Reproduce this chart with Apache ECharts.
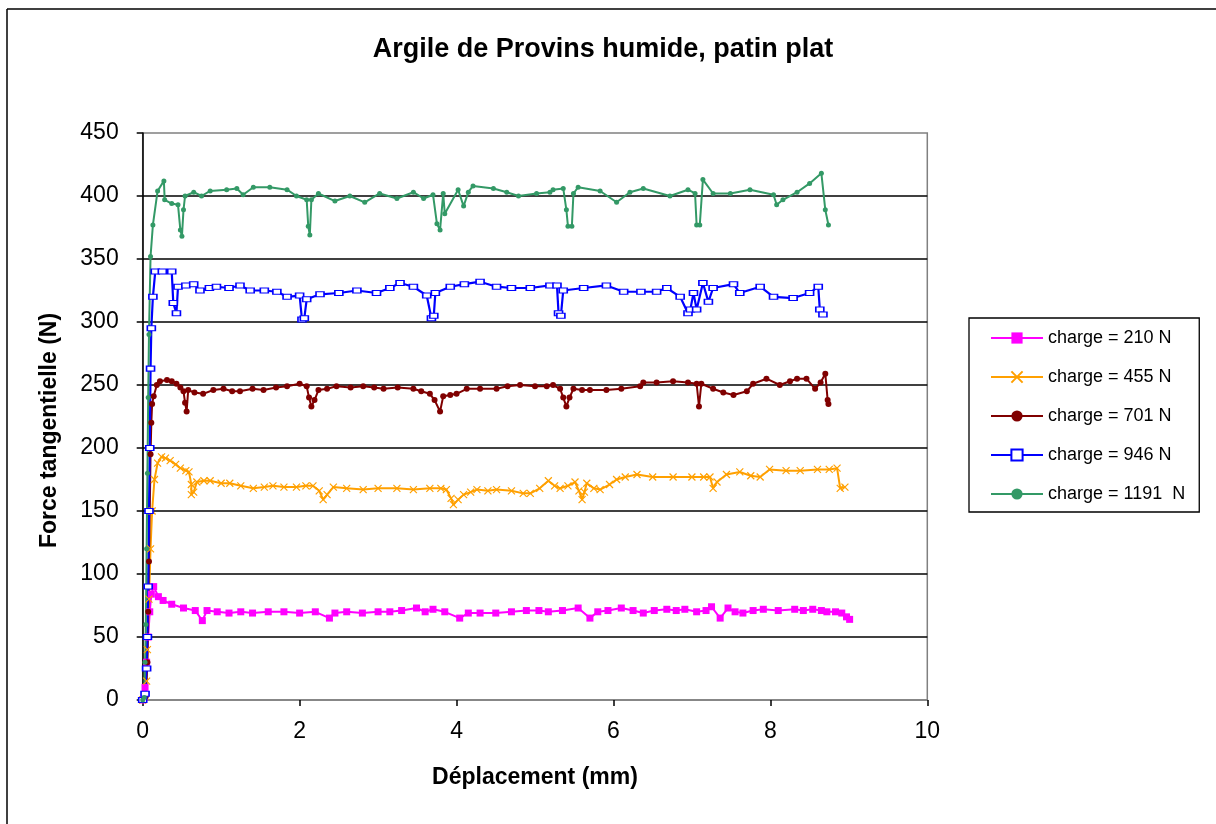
<!DOCTYPE html>
<html>
<head>
<meta charset="utf-8">
<script src="https://cdn.jsdelivr.net/npm/echarts@6/dist/echarts.min.js"></script>
<style>html,body{margin:0;padding:0;background:#fff}#c{width:1216px;height:824px}</style>
</head>
<body>
<div id="c"></div>
<script>
const seriesNames = ['charge = 210 N', 'charge = 455 N', 'charge = 701 N', 'charge = 946 N', 'charge = 1191  N'];
const xTicks = [0, 2, 4, 6, 8, 10];
const yTicks = [0, 50, 100, 150, 200, 250, 300, 350, 400, 450];

const s210 = [[0,0],[0.02,2],[0.03,10],[0.05,30],[0.07,50],[0.09,70],[0.11,84],[0.14,90],[0.20,82],[0.26,79],[0.37,76],[0.52,73],[0.67,71],[0.76,63],[0.82,71],[0.95,70],[1.1,69],[1.25,70],[1.4,69],[1.6,70],[1.8,70],[2.0,69],[2.2,70],[2.38,65],[2.45,69],[2.6,70],[2.8,69],[3.0,70],[3.15,70],[3.3,71],[3.49,73],[3.6,70],[3.70,72],[3.85,70],[4.04,65],[4.15,69],[4.3,69],[4.5,69],[4.7,70],[4.89,71],[5.05,71],[5.17,70],[5.35,71],[5.55,73],[5.70,65],[5.80,70],[5.93,71],[6.10,73],[6.25,71],[6.38,69],[6.52,71],[6.68,72],[6.80,71],[6.91,72],[7.06,70],[7.18,71],[7.25,74],[7.36,65],[7.46,73],[7.55,70],[7.65,69],[7.78,71],[7.91,72],[8.1,71],[8.31,72],[8.42,71],[8.54,72],[8.65,71],[8.72,70],[8.83,70],[8.91,69],[8.97,66],[9.01,64]];

const s455 = [[0,0],[0.03,3],[0.05,15],[0.06,40],[0.08,80],[0.1,120],[0.12,150],[0.15,175],[0.19,188],[0.24,193],[0.29,192],[0.35,190],[0.42,187],[0.48,184],[0.55,182],[0.59,181],[0.62,171],[0.62,163],[0.65,165],[0.69,173],[0.78,174],[0.86,174],[1.0,172],[1.11,172],[1.25,170],[1.41,168],[1.55,169],[1.66,170],[1.8,169],[1.96,169],[2.08,170],[2.17,170],[2.25,166],[2.30,159],[2.35,163],[2.43,169],[2.6,168],[2.81,167],[3.0,168],[3.24,168],[3.45,167],[3.66,168],[3.80,168],[3.87,167],[3.93,160],[3.96,155],[4.02,159],[4.09,163],[4.18,165],[4.26,167],[4.4,166],[4.51,167],[4.7,166],[4.85,164],[4.94,164],[5.06,168],[5.17,174],[5.25,170],[5.32,168],[5.42,170],[5.51,173],[5.56,166],[5.60,159],[5.63,165],[5.66,172],[5.75,168],[5.83,167],[5.95,171],[6.04,175],[6.15,177],[6.30,179],[6.5,177],[6.76,177],[7.0,177],[7.15,177],[7.23,177],[7.27,168],[7.32,173],[7.44,179],[7.61,181],[7.75,178],[7.87,177],[7.99,183],[8.2,182],[8.38,182],[8.6,183],[8.75,183],[8.85,184],[8.89,168],[8.95,169]];

const s701 = [[0,0],[0.04,3],[0.06,30],[0.07,70],[0.08,110],[0.09,150],[0.1,195],[0.11,220],[0.12,235],[0.14,241],[0.18,250],[0.22,253],[0.31,254],[0.37,253],[0.43,251],[0.48,248],[0.52,245],[0.54,236],[0.56,229],[0.58,246],[0.66,244],[0.77,243],[0.9,246],[1.03,247],[1.14,245],[1.24,245],[1.4,247],[1.54,246],[1.7,248],[1.84,249],[2.0,251],[2.09,249],[2.12,240],[2.15,233],[2.19,238],[2.24,246],[2.35,247],[2.47,249],[2.65,248],[2.81,249],[2.95,248],[3.07,247],[3.25,248],[3.45,247],[3.55,245],[3.66,243],[3.72,238],[3.79,229],[3.83,241],[3.92,242],[4.00,243],[4.13,247],[4.3,247],[4.51,247],[4.65,249],[4.81,250],[5.0,249],[5.15,249],[5.23,250],[5.32,247],[5.36,240],[5.40,233],[5.44,240],[5.49,247],[5.6,246],[5.70,246],[5.91,246],[6.1,247],[6.34,249],[6.38,252],[6.55,252],[6.76,253],[6.95,252],[7.06,251],[7.09,233],[7.12,251],[7.27,247],[7.40,244],[7.53,242],[7.70,245],[7.78,251],[7.95,255],[8.12,250],[8.25,253],[8.34,255],[8.46,255],[8.57,247],[8.64,252],[8.70,259],[8.73,238],[8.74,235]];

const s946 = [[0,0],[0.03,5],[0.05,25],[0.06,50],[0.07,90],[0.08,150],[0.09,200],[0.1,263],[0.11,295],[0.13,320],[0.16,340],[0.25,340],[0.37,340],[0.39,315],[0.43,307],[0.45,328],[0.55,329],[0.65,330],[0.73,325],[0.85,327],[0.94,328],[1.1,327],[1.24,329],[1.37,325],[1.55,325],[1.71,324],[1.84,320],[2.00,321],[2.03,302],[2.06,303],[2.09,318],[2.26,322],[2.5,323],[2.73,325],[2.98,323],[3.15,327],[3.28,331],[3.45,328],[3.62,321],[3.68,303],[3.71,305],[3.73,323],[3.92,328],[4.1,330],[4.30,332],[4.51,328],[4.7,327],[4.94,327],[5.19,329],[5.28,329],[5.30,307],[5.33,305],[5.36,325],[5.62,327],[5.91,329],[6.13,324],[6.35,324],[6.55,324],[6.68,327],[6.85,320],[6.95,307],[6.98,310],[7.02,323],[7.06,310],[7.14,331],[7.21,316],[7.27,327],[7.53,330],[7.61,323],[7.87,328],[8.04,320],[8.29,319],[8.50,323],[8.61,328],[8.63,310],[8.67,306]];

const s1191 = [[0,0],[0.02,2],[0.03,30],[0.04,60],[0.05,120],[0.06,180],[0.07,240],[0.08,290],[0.10,352],[0.13,377],[0.19,404],[0.27,412],[0.28,397],[0.37,394],[0.45,393],[0.48,373],[0.50,368],[0.52,389],[0.54,400],[0.65,403],[0.75,400],[0.86,404],[1.07,405],[1.20,406],[1.28,401],[1.41,407],[1.62,407],[1.84,405],[1.96,400],[2.09,397],[2.11,376],[2.13,369],[2.15,397],[2.24,402],[2.45,396],[2.64,400],[2.83,395],[3.02,402],[3.24,398],[3.45,403],[3.58,398],[3.70,401],[3.75,378],[3.79,373],[3.83,402],[3.85,386],[4.02,405],[4.09,392],[4.15,403],[4.21,408],[4.47,406],[4.64,403],[4.79,400],[5.02,402],[5.19,403],[5.23,405],[5.36,406],[5.40,389],[5.42,376],[5.47,376],[5.49,402],[5.55,407],[5.83,404],[6.04,395],[6.21,403],[6.38,406],[6.72,400],[6.95,405],[7.04,402],[7.06,377],[7.10,377],[7.14,413],[7.27,402],[7.49,402],[7.74,405],[8.04,401],[8.08,393],[8.16,397],[8.34,403],[8.50,410],[8.65,418],[8.70,389],[8.74,377]];

const FONT = '"Liberation Sans", Arial, sans-serif';
const chart = echarts.init(document.getElementById('c'), null, {renderer: 'canvas'});

function mk(name, data, color, symbol, size, lw, itemStyle) {
  return {
    name: name, type: 'line', data: data, animation: false,
    showSymbol: true, symbol: symbol, symbolSize: size,
    lineStyle: {color: color, width: lw},
    itemStyle: Object.assign({color: color}, itemStyle || {}),
    emphasis: {disabled: true}
  };
}

chart.setOption({
  backgroundColor: '#fff',
  animation: false,
  title: {
    text: 'Argile de Provins humide, patin plat',
    left: 598, top: 31, textAlign: 'center',
    textStyle: {fontFamily: FONT, fontSize: 27, fontWeight: 'bold', color: '#000'}
  },
  grid: {left: 142.7, right: 288.7, top: 133, bottom: 124, show: true, borderColor: '#808080', borderWidth: 1.5},
  legend: {
    orient: 'vertical', left: 969, top: 318,
    padding: [11, 14, 9, 21],
    borderColor: '#000', borderWidth: 1.3,
    itemWidth: 52, itemHeight: 14, itemGap: 21,
    textStyle: {fontFamily: FONT, fontSize: 18, color: '#000', lineHeight: 18},
    data: seriesNames
  },
  xAxis: {
    type: 'value', min: xTicks[0], max: xTicks[xTicks.length - 1], interval: 2,
    name: 'Déplacement (mm)', nameLocation: 'middle', nameGap: 66,
    nameTextStyle: {fontFamily: FONT, fontSize: 23, fontWeight: 'bold', color: '#000'},
    axisLine: {onZero: false, lineStyle: {color: '#808080', width: 1.5}},
    axisTick: {show: true, inside: false, length: 6, lineStyle: {color: '#000', width: 1.5}},
    axisLabel: {margin: 20, fontFamily: FONT, fontSize: 23, color: '#000'},
    splitLine: {show: false}
  },
  yAxis: {
    type: 'value', min: yTicks[0], max: yTicks[yTicks.length - 1], interval: 50,
    name: 'Force tangentielle (N)', nameLocation: 'middle', nameGap: 82,
    nameTextStyle: {fontFamily: FONT, fontSize: 23, fontWeight: 'bold', color: '#000', padding: [0, 28, 0, 0]},
    axisLine: {show: true, onZero: false, lineStyle: {color: '#000', width: 1.5}},
    axisTick: {show: true, inside: false, length: 6, lineStyle: {color: '#000', width: 1.5}},
    axisLabel: {margin: 24, fontFamily: FONT, fontSize: 23, color: '#000'},
    splitLine: {show: true, showMinLine: false, showMaxLine: false, lineStyle: {color: '#000', width: 1.5}}
  },
  series: [
    mk(seriesNames[0], s210, '#FF00FF', 'rect', 7, 2),
    mk(seriesNames[1], s455, '#FFA000', 'path://M0,0L10,10M10,0L0,10', 7, 2, {borderColor: '#FFA000', borderWidth: 1.2}),
    mk(seriesNames[2], s701, '#800000', 'circle', 6, 2),
    mk(seriesNames[3], s946, '#0000FF', 'rect', [8, 5], 2.2, {color: '#fff', borderColor: '#0000FF', borderWidth: 1.3}),
    mk(seriesNames[4], s1191, '#339966', 'circle', 5, 2)
  ],
  graphic: [
    {type: 'line', shape: {x1: 7, y1: 9, x2: 7, y2: 824}, style: {stroke: '#000', lineWidth: 1.5}, silent: true},
    {type: 'line', shape: {x1: 7, y1: 9, x2: 1216, y2: 9}, style: {stroke: '#000', lineWidth: 1.5}, silent: true}
  ]
});
</script>
</body>
</html>
